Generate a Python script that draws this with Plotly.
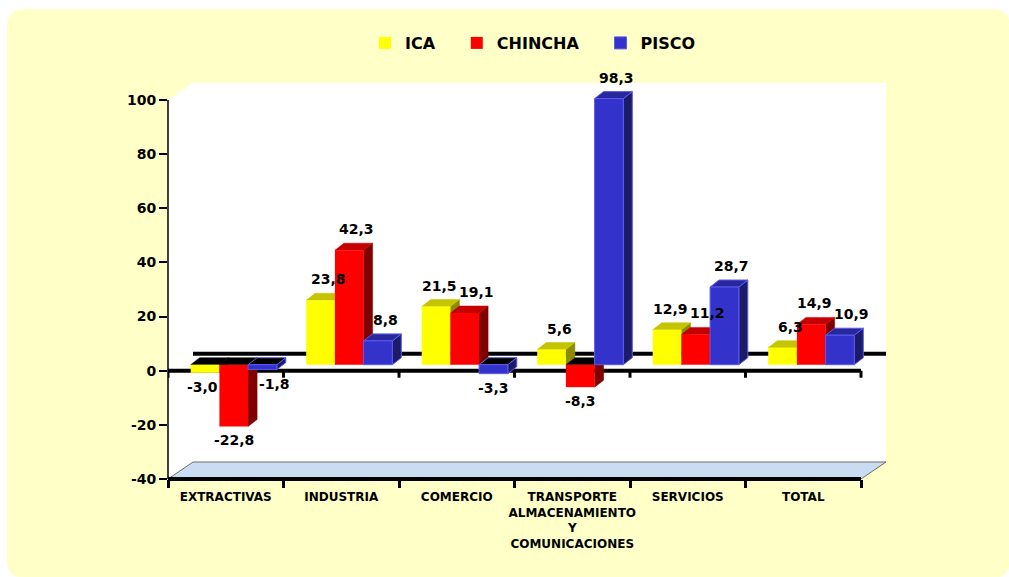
import plotly.graph_objects as go

# ---------------- data ----------------
categories = ["EXTRACTIVAS", "INDUSTRIA", "COMERCIO",
              "TRANSPORTE<br>ALMACENAMIENTO<br>Y<br>COMUNICACIONES",
              "SERVICIOS", "TOTAL"]
series_names = ["ICA", "CHINCHA", "PISCO"]
ica = [-3.0, 23.8, 21.5, 5.6, 12.9, 6.3]
chincha = [-22.8, 42.3, 19.1, -8.3, 11.2, 14.9]
pisco = [-1.8, 8.8, -3.3, 98.3, 28.7, 10.9]
y_ticks = [-40, -20, 0, 20, 40, 60, 80, 100]
y_tick_labels = ["-40", "-20", "0", "20", "40", "60", "80", "100"]

# ---------------- layout geometry ----------------
W, H = 1009, 577
ML, MR, MT, MB = 168, 123, 83, 98
PW, PH = W - ML - MR, H - MT - MB
WALL_DX, WALL_DY = 25, 17          # px depth of the 3D box
Y0, Y1 = y_ticks[0], y_ticks[-1]
N = len(categories)
ppu_x = (PW - WALL_DX) / N
ppu_y = (PH - WALL_DY) / (Y1 - Y0)
X_MIN, X_MAX = -0.5, N - 0.5 + WALL_DX / ppu_x
Y_MAX = Y1 + WALL_DY / ppu_y
wdx, wdy = WALL_DX / ppu_x, WALL_DY / ppu_y

SHIFT_X, SHIFT_Y = 8, 6             # bars sit mid-depth (px)
sx, sy = SHIFT_X / ppu_x, SHIFT_Y / ppu_y
BAR_PX = 28.7
BAR_W = BAR_PX / ppu_x
DEPTH_PX_X, DEPTH_PX_Y = 9, 7
bdx, bdy = DEPTH_PX_X / ppu_x, DEPTH_PX_Y / ppu_y     # bar depth

front = ["#FFFF00", "#FF0000", "#3333CC"]
topc = ["#C4C400", "#C40000", "#28289C"]
sidec = ["#8C8C00", "#800000", "#1C1C66"]
edgec = ["#FFFF00", "#FF0000", "#5A5AF0"]
FONT = "DejaVu Sans"
LBL_SIZE = 14
CHAR_EM = {",": 0.38, "-": 0.415}

def px2paper(xp, yp):
    return (xp - ML) / PW, (H - MB - yp) / PH

def path(pts):
    return "M " + " L ".join(f"{x:.5f},{y:.5f}" for x, y in pts) + " Z"

def text_w(s):
    return sum(CHAR_EM.get(c, 0.696) for c in s) * LBL_SIZE

fig = go.Figure()
series = [ica, chincha, pisco]

# side / top faces (computed from the data values)
for j, vals in enumerate(series):
    tx, ty, nx, ny, sxs, sys_ = [], [], [], [], [], []
    for i, v in enumerate(vals):
        cx = i + (j - 1) * BAR_W
        xl, xr = cx - BAR_W / 2, cx + BAR_W / 2
        h = max(v, 0)
        top = [(xl, h), (xr, h), (xr + bdx, h + bdy), (xl + bdx, h + bdy), (xl, h)]
        side = [(xr, 0), (xr, v), (xr + bdx, v + bdy), (xr + bdx, bdy), (xr, 0)]
        if v >= 0:
            tx += [p[0] for p in top] + [None]
            ty += [p[1] for p in top] + [None]
        else:
            nx += [p[0] for p in top] + [None]
            ny += [p[1] for p in top] + [None]
        sxs += [p[0] for p in side] + [None]
        sys_ += [p[1] for p in side] + [None]
    lw = 1 if j == 2 else 0.5
    fig.add_trace(go.Scatter(x=sxs, y=sys_, mode="lines", fill="toself",
                             fillcolor=sidec[j], line=dict(color=edgec[j] if j == 2 else sidec[j], width=lw),
                             xaxis="x2", yaxis="y2", hoverinfo="skip", showlegend=False))
    fig.add_trace(go.Scatter(x=tx, y=ty, mode="lines", fill="toself",
                             fillcolor=topc[j], line=dict(color=edgec[j] if j == 2 else topc[j], width=lw),
                             xaxis="x2", yaxis="y2", hoverinfo="skip", showlegend=False))
    if nx:
        fig.add_trace(go.Scatter(x=nx, y=ny, mode="lines", fill="toself",
                                 fillcolor="#000000", line=dict(color=edgec[j] if j == 2 else "#000000", width=lw),
                                 xaxis="x2", yaxis="y2", hoverinfo="skip", showlegend=False))

# front faces: real bars
for j, vals in enumerate(series):
    fig.add_trace(go.Bar(x=categories, y=vals, name=series_names[j] + "\u00a0\u00a0\u00a0",
                         marker=dict(color=front[j],
                                     line=dict(color=edgec[j], width=1 if j == 2 else 0)),
                         xaxis="x3", yaxis="y3"))

# data labels with simple collision avoidance inside each cluster
ann = []
lfont = dict(family=FONT, size=LBL_SIZE, color="black", weight="bold")
for i in range(N):
    labs = []
    for j, vals in enumerate(series):
        v = vals[i]
        cx = i + (j - 1) * BAR_W
        txt = f"{v:.1f}".replace(".", ",")
        labs.append(dict(v=v, txt=txt, cx=cx, w=text_w(txt), xs=3.0 if v >= 0 else 0.0))
    # positive labels: push neighbours apart when they collide
    for j in range(len(labs) - 1):
        a, b2 = labs[j], labs[j + 1]
        if a["v"] >= 0 and b2["v"] >= 0 and abs(a["v"] - b2["v"]) * ppu_y < LBL_SIZE:
            gap = (b2["cx"] - a["cx"]) * ppu_x + b2["xs"] - a["xs"]
            ov = (a["w"] + b2["w"]) / 2 + 2 - gap
            if ov > 0:
                a["xs"] -= ov / 2
                b2["xs"] += ov / 2
    # negative labels: move clear of a deeper neighbouring bar
    for j, L in enumerate(labs):
        if L["v"] >= 0:
            continue
        half = L["w"] / 2
        if j + 1 < len(labs) and labs[j + 1]["v"] < L["v"]:
            L["xs"] = min(L["xs"], BAR_PX / 2 - 2 - half)
        if j - 1 >= 0 and labs[j - 1]["v"] < L["v"]:
            L["xs"] = max(L["xs"], -BAR_PX / 2 + DEPTH_PX_X + 2 + half)
    for L in labs:
        if L["v"] >= 0:
            ann.append(dict(x=L["cx"] + bdx / 2, y=L["v"] + bdy, xref="x2", yref="y2",
                            text=L["txt"], showarrow=False, yanchor="bottom",
                            yshift=4, xshift=L["xs"], font=lfont))
        else:
            ann.append(dict(x=L["cx"], y=L["v"], xref="x2", yref="y2", text=L["txt"],
                            showarrow=False, yanchor="top", yshift=-4, xshift=L["xs"],
                            font=lfont))

# background / box shapes
shapes = []
l, t = px2paper(7, 9)
r, b = px2paper(1010, 578)
rx, ry = 18 / PW, 18 / PH
shapes.append(dict(type="path", xref="paper", yref="paper", layer="below",
                   path=(f"M {l+rx},{t} L {r-rx},{t} Q {r},{t} {r},{t-ry} L {r},{b+ry} "
                         f"Q {r},{b} {r-rx},{b} L {l+rx},{b} Q {l},{b} {l},{b+ry} "
                         f"L {l},{t-ry} Q {l},{t} {l+rx},{t} Z"),
                   fillcolor="#FFFFC8", line=dict(width=0)))
wall = [(X_MIN, Y0), (X_MIN, Y1), (X_MIN + wdx, Y_MAX), (X_MAX, Y_MAX),
        (X_MAX, Y0 + wdy), (N - 0.5, Y0)]
shapes.append(dict(type="path", xref="x", yref="y", layer="below", path=path(wall),
                   fillcolor="white", line=dict(width=0)))
floor = [(X_MIN, Y0), (N - 0.5, Y0), (X_MAX, Y0 + wdy), (X_MIN + wdx, Y0 + wdy)]
shapes.append(dict(type="path", xref="x", yref="y", layer="below", path=path(floor),
                   fillcolor="#C9DCF2", line=dict(color="#6E6E6E", width=1)))
# back zero line
shapes.append(dict(type="line", xref="x", yref="y", layer="below",
                   x0=X_MIN + wdx, x1=X_MAX, y0=wdy, y1=wdy,
                   line=dict(color="black", width=4)))
# front zero line with ticks
shapes.append(dict(type="line", xref="x", yref="y", layer="below",
                   x0=X_MIN, x1=N - 0.5, y0=0, y1=0, line=dict(color="black", width=4)))
for k in range(N + 1):
    shapes.append(dict(type="line", xref="x", yref="y", layer="below",
                       x0=k - 0.5, x1=k - 0.5, ysizemode="pixel", yanchor=0, y0=0, y1=-7,
                       line=dict(color="black", width=3)))
# bottom axis line
shapes.append(dict(type="line", xref="paper", yref="paper", layer="above",
                   x0=0, x1=(N - 0.5 - X_MIN) / (X_MAX - X_MIN), y0=0, y1=0,
                   line=dict(color="black", width=4)))
# y axis line
shapes.append(dict(type="line", xref="paper", yref="paper", layer="above",
                   x0=0, x1=0, y0=0, y1=(Y1 - Y0) / (Y_MAX - Y0),
                   line=dict(color="black", width=1.5)))

centers = list(range(N))
bounds = [k - 0.5 for k in range(N + 1)]

fig.update_layout(
    width=W, height=H,
    margin=dict(l=ML, r=MR, t=MT, b=MB, autoexpand=False),
    paper_bgcolor="white", plot_bgcolor="rgba(0,0,0,0)",
    barmode="group", bargap=1 - 3 * BAR_W, bargroupgap=0,
    showlegend=True,
    legend=dict(orientation="h", x=px2paper(365, 0)[0], xanchor="left",
                y=px2paper(0, 43)[1], yanchor="middle",
                bgcolor="rgba(0,0,0,0)", borderwidth=0,
                font=dict(family=FONT, size=16, color="black", weight="bold")),
    xaxis=dict(range=[X_MIN, X_MAX], tickvals=centers, ticktext=categories,
               ticks="", showgrid=False, zeroline=False, showline=False,
               ticklabelstandoff=9,
               tickfont=dict(family=FONT, size=12, color="black", weight="bold"),
               minor=dict(tickvals=bounds, ticks="outside", ticklen=8, tickwidth=3,
                          tickcolor="black", showgrid=False),
               fixedrange=True),
    yaxis=dict(range=[Y0, Y_MAX], tickvals=y_ticks, ticktext=y_tick_labels,
               ticks="outside", ticklen=8,
               tickwidth=1.5, tickcolor="black", showgrid=False, zeroline=False,
               showline=False,
               tickfont=dict(family=FONT, size=14, color="black", weight="bold")),
    xaxis2=dict(overlaying="x", range=[X_MIN - sx, X_MAX - sx], visible=False),
    yaxis2=dict(overlaying="y", range=[Y0 - sy, Y_MAX - sy], visible=False),
    xaxis3=dict(overlaying="x", type="category", categoryarray=categories,
                range=[X_MIN - sx, X_MAX - sx], visible=False),
    yaxis3=dict(overlaying="y", range=[Y0 - sy, Y_MAX - sy], visible=False),
    shapes=shapes, annotations=ann,
)

fig.write_html("out.html", config={"displayModeBar": False},
               post_script="document.body.style.margin='0';document.body.style.overflow='hidden';")
